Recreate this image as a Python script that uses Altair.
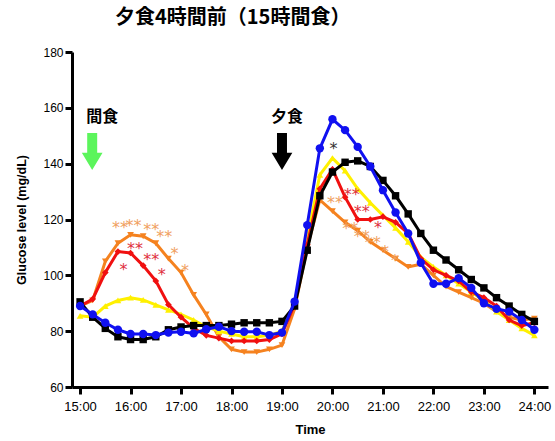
import altair as alt
import pandas as pd

hours = [15.0, 15.25, 15.5, 15.75, 16.0, 16.25, 16.5, 16.75, 17.0, 17.25, 17.5, 17.75,
         18.0, 18.25, 18.5, 18.75, 19.0, 19.25, 19.5, 19.75, 20.0, 20.25, 20.5, 20.75,
         21.0, 21.25, 21.5, 21.75, 22.0, 22.25, 22.5, 22.75, 23.0, 23.25, 23.5, 23.75, 24.0]

blue = [89, 86, 83, 80.5, 79, 79, 78.6, 79.5, 79.8, 79.2, 80.7, 81.6, 80, 79.8, 79.8, 78.6,
        79.5, 90.6, 118, 145.5, 155.9, 152, 146, 139, 130.5, 122.5, 115, 104.5, 97, 97, 99,
        95.5, 90, 88, 87, 84, 80.5]
black = [90.5, 85, 81, 78, 77, 77, 78, 80.5, 81.5, 82, 82, 82, 82.5, 83, 83, 83, 83.5, 89,
         109, 128.5, 137, 140.5, 141, 139, 134, 128.5, 122, 115, 109, 105.5, 102, 98.5, 95.5,
         92, 89, 86, 83.5]
red = [89, 91.5, 101, 108.5, 108, 103.5, 98, 89.5, 85, 81, 78.5, 77.5, 76.5, 76.5, 76.5, 77,
       79, 89.5, 111, 131, 138, 128, 120, 120, 121, 119, 115, 106, 102, 100, 98, 94, 92, 89,
       84, 82, 83]
orange = [89, 91, 105, 111.5, 114.5, 114, 111.5, 106, 101, 93, 86, 78, 73.5, 72.5, 72.5, 73.5,
          75, 88, 110, 127, 123, 119, 116, 112, 109, 106, 103, 104, 100, 96, 94, 92, 90, 87,
          85, 84, 84.5]
yellow = [85.5, 85, 89, 91, 92, 91.2, 89.4, 87.6, 86, 84, 81.5, 80, 79, 78, 78, 78.5, 80, 90,
          113, 136, 142, 137.5, 131, 126, 121.5, 117, 112, 106.5, 103, 100, 97, 94, 91, 87, 84,
          81, 78.5]

series = [
    ("orange", orange, "#F5821F", "triangle-down", 45),
    ("yellow", yellow, "#FFF000", "triangle-up", 45),
    ("red", red, "#F01010", "diamond", 45),
    ("black", black, "#000000", "square", 55),
    ("blue", blue, "#1010F0", "circle", 70),
]

# significance asterisks
ast_t = [15.79, 16.06, 16.41, 16.67, 16.87, 17.08,
         15.86, 16.09, 16.41, 16.62,
         20.02,
         20.38, 20.58, 20.9,
         20.05, 20.35, 20.58, 20.8, 21.04, 21.24]
ast_v = [118.5, 119.2, 117.5, 115, 109, 103,
         103.4, 110.9, 107, 101.6,
         146.7,
         130.3, 124, 118.5,
         127.2, 118, 115, 113, 109.7, 106.7]
ast_txt = ["**", "**", "**", "**", "*", "*",
           "*", "**", "**", "*",
           "*",
           "**", "**", "*",
           "**", "**", "**", "**", "*", "*"]
ast_col = ["o"] * 6 + ["r"] * 4 + ["k"] + ["r"] * 3 + ["o"] * 6

arrow_t = [15.24, 19.0]
arrow_v = [144.4, 144.4]
arrow_c = ["#5CF55C", "#000000"]
label_t = [15.44, 19.1]
label_v = [156.7, 156.7]
label_txt = ["間食", "夕食"]

xscale = alt.Scale(domain=[14.84, 24.27], nice=False, zero=False)
yscale = alt.Scale(domain=[60, 180], nice=False, zero=False)

xaxis = alt.Axis(values=[15, 16, 17, 18, 19, 20, 21, 22, 23, 24],
                 labelExpr="datum.value + ':00'", title="Time",
                 labelFontSize=13, titleFontSize=13, titleFontWeight="bold",
                 labelPadding=6, titlePadding=10)
yaxis = alt.Axis(values=[60, 80, 100, 120, 140, 160, 180], title="Glucose level (mg/dL)",
                 labelFontSize=12, titleFontSize=12.5, titleFontWeight="bold",
                 labelPadding=2, titlePadding=14)

X = alt.X("t:Q", scale=xscale, axis=xaxis)
Y = alt.Y("v:Q", scale=yscale, axis=yaxis)

layers = []
for name, vals, col, shape, size in series:
    df = pd.DataFrame({"t": hours, "v": vals})
    base = alt.Chart(df)
    layers.append(base.mark_line(color=col, strokeWidth=3).encode(x=X, y=Y))
    layers.append(base.mark_point(color=col, filled=True, opacity=1, shape=shape, size=size,
                                  strokeWidth=0).encode(x=X, y=Y))

ast_df = pd.DataFrame({"t": ast_t, "v": ast_v, "txt": ast_txt, "c": ast_col})
ast = alt.Chart(ast_df).mark_text(fontSize=16, font="DejaVu Sans", baseline="middle",
                                  dy=4, align="center").encode(
    x=X, y=Y,
    text="txt:N",
    color=alt.Color("c:N", scale=alt.Scale(domain=["o", "r", "k"],
                                           range=["#F0A060", "#E03040", "#333333"]),
                    legend=None),
)

arrow_path = "M-0.27,-1 L0.27,-1 L0.27,0.08 L0.56,0.08 L0,1 L-0.56,0.08 L-0.27,0.08 Z"
arr_df = pd.DataFrame({"t": arrow_t, "v": arrow_v, "c": arrow_c})
arrows = alt.Chart(arr_df).mark_point(shape=arrow_path, size=1369, filled=True, opacity=1,
                                      strokeWidth=0).encode(
    x=X, y=Y,
    color=alt.Color("c:N", scale=None, legend=None),
)

lab_df = pd.DataFrame({"t": label_t, "v": label_v, "txt": label_txt})
labels = alt.Chart(lab_df).mark_text(fontSize=16, fontWeight="bold", font="Noto Sans CJK JP",
                                     baseline="middle", color="black").encode(
    x=X, y=Y,
    text="txt:N",
)

chart = alt.layer(*layers, ast, arrows, labels).properties(
    width=476, height=335,
    title=alt.TitleParams("夕食4時間前（15時間食）", anchor="start", fontSize=20,
                          font="Noto Sans CJK JP", fontWeight="bold", dx=43, offset=18,
                          frame="group", color="black"),
    autosize=alt.AutoSizeParams(type="none"),
    padding={"left": 72, "top": 52, "right": 7, "bottom": 54},
).configure_view(stroke=None).configure_axis(
    domainColor="black", domainWidth=3, tickColor="black", tickWidth=3, tickSize=7,
    grid=False, labelColor="black", titleColor="black", labelFont="Liberation Sans",
    titleFont="Liberation Sans",
)

chart.save("out.html", embed_options={"renderer": "svg", "actions": False})
